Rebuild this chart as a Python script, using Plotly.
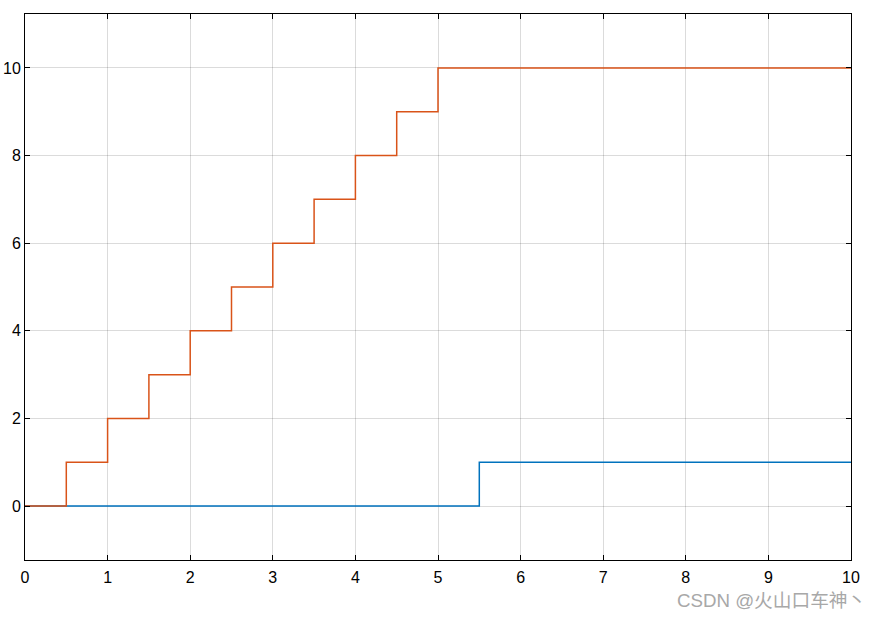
import plotly.graph_objects as go

blue_x = [0, 5.5, 10]
blue_y = [0, 1, 1]
orange_x = [0, 0.5, 1, 1.5, 2, 2.5, 3, 3.5, 4, 4.5, 5, 10]
orange_y = [0, 1, 2, 3, 4, 5, 6, 7, 8, 9, 10, 10]
x_ticks = list(range(0, 11))
y_ticks = [0, 2, 4, 6, 8, 10]

fig = go.Figure()
fig.add_trace(go.Scatter(x=blue_x, y=blue_y, mode="lines", line=dict(shape="hv", color="#0072BD", width=1.5)))
fig.add_trace(go.Scatter(x=orange_x, y=orange_y, mode="lines", line=dict(shape="hv", color="#D95319", width=1.5)))

axis_common = dict(
    showline=True, linecolor="black", linewidth=1, mirror="ticks",
    ticks="inside", ticklen=5, tickcolor="black", automargin=False,
    showgrid=True, gridcolor="rgba(0,0,0,0.14)", gridwidth=1,
    zeroline=False, tickfont=dict(family="Liberation Sans", size=16, color="black"),
)
fig.update_xaxes(range=[0, 10], tickvals=x_ticks, ticklabelstandoff=3, **axis_common)
fig.update_yaxes(range=[-1.23, 11.23], tickvals=y_ticks, **axis_common)

fig.add_annotation(
    text="CSDN @火山口车神丶", xref="paper", yref="paper", x=1.021, y=-0.074,
    xanchor="right", yanchor="middle", showarrow=False,
    font=dict(family="Liberation Sans, Noto Sans CJK SC", size=18.7, color="#a8a8a8"),
)

fig.update_layout(
    width=875, height=619, showlegend=False,
    margin=dict(l=25, r=24, t=14, b=59, autoexpand=False),
    plot_bgcolor="white", paper_bgcolor="white",
)
fig.write_html(
    "out.html",
    config={"displayModeBar": False},
    post_script="document.body.style.margin='0';document.body.style.overflow='hidden';",
)
